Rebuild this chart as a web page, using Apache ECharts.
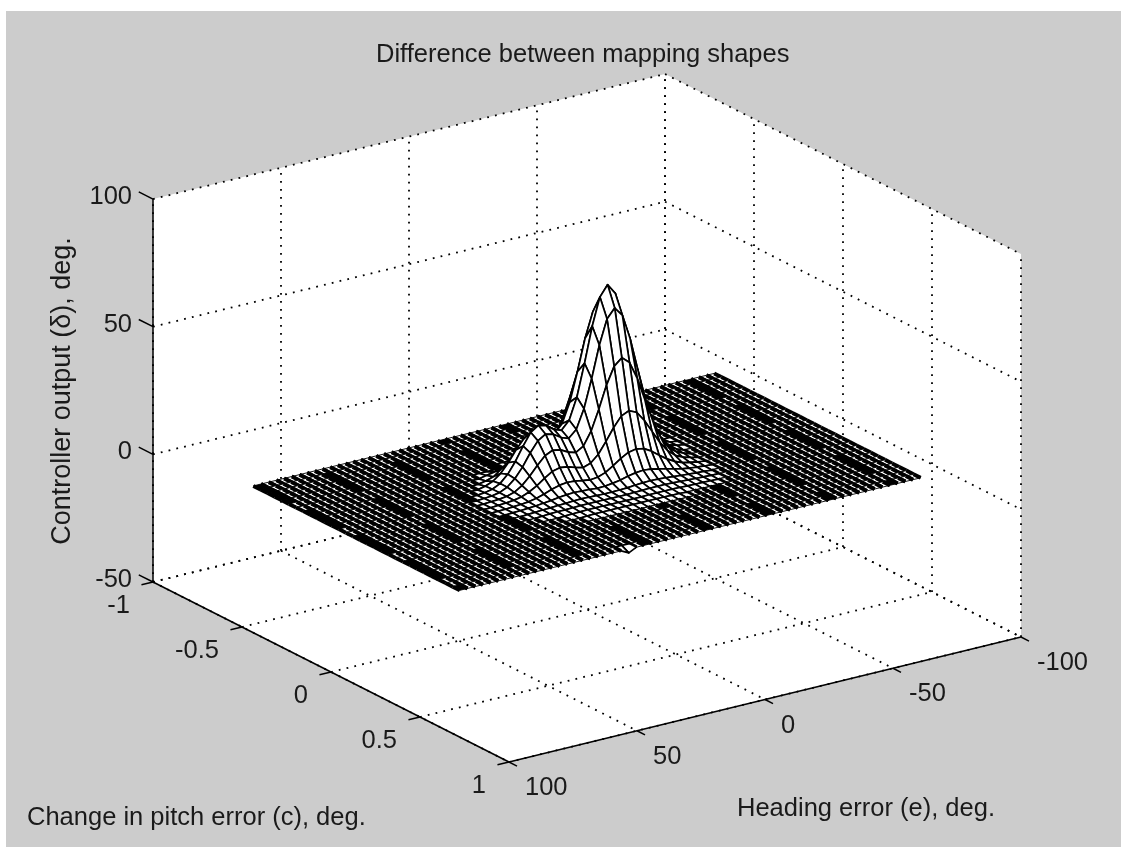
<!DOCTYPE html>
<html><head><meta charset="utf-8">
<style>html,body{margin:0;padding:0;background:#fff}#c{width:1121px;height:847px}</style>
<script src="https://cdn.jsdelivr.net/npm/echarts@6/dist/echarts.min.js"></script>
</head><body><div id="c"></div>
<script>
const titleText = 'Difference between mapping shapes';
const zAxisName = 'Controller output (\u03B4), deg.';
const cAxisName = 'Change in pitch error (c), deg.';
const eAxisName = 'Heading error (e), deg.';
const eTicks = [100, 50, 0, -50, -100];
const cTicks = [-1, -0.5, 0, 0.5, 1];
const zTicks = [100, 50, 0, -50];
const eGrid = [-90,-87,-84,-81,-78,-75,-72,-69,-66,-63,-60,-57,-54,-51,-48,-45,-42,-39,-36,-33,-30,-27,-24,-21,-18,-15,-12,-9,-6,-3,0,3,6,9,12,15,18,21,24,27,30,33,36,39,42,45,48,51,54,57,60,63,66,69,72,75,78,81,84,87,90];
const cGrid = [-0.58,-0.54,-0.5,-0.46,-0.42,-0.38,-0.34,-0.3,-0.26,-0.22,-0.18,-0.14,-0.1,-0.06,-0.02,0.02,0.06,0.1,0.14,0.18,0.22,0.26,0.3,0.34,0.38,0.42,0.46,0.5,0.54,0.58];
const peakE = [48,45,42,39,36,33,30,27,24,21,18,15,12,9,6,3,0,-3,-6,-9,-12,-15,-18,-21,-24,-27,-30,-33,-36,-39,-42,-45,-48];
const peakC = [-0.34,-0.3,-0.26,-0.22,-0.18,-0.14,-0.1,-0.06,-0.02,0.02,0.06,0.1,0.14,0.18,0.22,0.26];
const peakZ = [
[0,0,0,0,0,0,0,0,0,0,0,0,0,0,0,0,.2,.3,.4,.6,.9,1.1,.9,.6,.4,.3,.2,0,0,0,0,0,0],
[0,0,0,0,0,0,0,0,0,0,0,0,0,0,0,.3,.8,1.5,2.2,3,3.6,3.9,3.6,3,2.2,1.5,.8,.3,0,0,0,0,0],
[0,0,0,0,0,0,0,0,0,0,0,0,.4,.5,.8,1.3,2.5,4.1,6.3,8.6,10.3,10.9,10.3,8.6,6.3,4.1,2.4,1.2,.5,0,0,0,0],
[0,0,0,0,0,0,0,0,.6,1.2,1.8,2.3,2.7,2.8,3.1,3.9,6,9.3,14.3,19.3,23.2,24.6,23.2,19.3,14.3,9.3,5.4,2.7,1.3,0,0,0,0],
[0,0,0,0,0,0,0,.6,1.5,3.8,6,7.8,8.7,8.6,8.3,8.7,11.7,17.7,25.9,34.6,41.5,44.1,41.5,34.6,25.5,16.7,9.6,4.9,2.3,0,0,0,0],
[0,0,0,0,0,0,.7,1.9,4.2,7.7,11.9,15.5,17.3,16.6,15.1,14.6,17.8,25.5,36.7,49.1,58.7,62.3,58.7,48.9,36,23.6,13.6,6.9,3.2,1.2,.4,0,0],
[0,0,0,0,0,.3,.9,2.4,5.3,9.6,14.9,19.5,21.5,20.7,18.5,17.4,20.6,28.9,41.4,55.2,65.9,70,65.9,54.9,40.5,26.5,15.3,7.8,3.6,1.4,.5,0,0],
[0,0,0,0,.2,.4,1,2.4,5,8.8,13.6,17.6,19.5,18.7,16.7,15.6,18.4,25.8,36.8,49.2,58.7,62.3,58.7,48.9,36,23.6,13.6,6.9,3.2,1.2,0,0,0],
[0,0,0,.1,.3,.5,.9,1.8,3.7,6.6,10.1,13.2,14.6,14,12.4,11.5,13.3,18.4,26.2,34.9,41.6,44.2,41.6,34.7,25.6,16.8,9.7,5,2.4,1,0,0,0],
[0,0,0,.1,.3,.5,.8,1.4,2.6,4.3,6.5,8.4,9.2,8.8,7.8,7,8,10.7,15,19.7,23.5,24.9,23.5,19.6,14.6,9.6,5.7,3,1.6,.7,0,0,0],
[0,0,0,.1,.2,.4,.6,.9,1.5,2.4,3.5,4.4,4.8,4.6,4.1,3.6,3.9,5,6.9,9,10.7,11.3,10.7,9,6.7,4.5,2.8,1.6,.9,.4,0,0,0],
[0,0,0,0,.2,.3,.5,.7,1,1.3,1.8,2.1,2.3,2.1,2,1.7,1.8,2.2,2.7,3.5,4.1,4.4,4.1,3.5,2.7,2,1.3,.8,.5,.2,0,0,0],
[0,0,0,0,0,.2,.3,.5,.6,.8,.9,1.1,1.2,1.1,1,.9,.9,1,1.1,1.4,1.6,1.7,1.6,1.4,1.1,.8,.6,.4,.2,0,0,0,0],
[0,0,0,0,0,0,.2,.4,.5,.5,.6,.7,.7,.7,.7,.6,.6,.6,.7,.8,.9,.9,.9,.8,.6,.5,.3,.2,.1,0,0,0,0],
[0,0,0,0,0,0,0,0,.2,.3,.4,.5,.5,.5,.4,.4,.4,.4,.4,.5,.5,.5,.5,.4,.3,.2,.2,.1,0,0,0,0,0],
[0,0,0,0,0,0,0,0,0,0,.2,.3,.3,.3,.3,.3,.3,.3,.3,.3,.3,.2,.2,0,0,0,0,0,0,0,0,0,0]
];
const edgeDipE = [24];
const edgeDipC = [0.58];
const edgeDipZ = [-1.5];

// ---- view (orthographic projection of the 3-D box on the 2-D cartesian grid)
const O = {x: 509, y: 762};
const PER_E = {x: 2.56, y: -0.625}, PER_C = {x: 178, y: 90}, PER_Z = 2.553;
function proj(e, c, z) {
  return [O.x + (100 - e) * PER_E.x + (c - 1) * PER_C.x,
          O.y + (100 - e) * PER_E.y + (c - 1) * PER_C.y - (z + 50) * PER_Z];
}
const FONT = '"Liberation Sans", Arial, sans-serif';
const FS = 25.5, INK = '#1a1a1a';

const zMap = new Map();
peakC.forEach((c, j) => peakE.forEach((e, i) => { if (peakZ[j][i]) zMap.set(e + '|' + c, peakZ[j][i]); }));
edgeDipE.forEach((e, i) => zMap.set(e + '|' + edgeDipC[i], edgeDipZ[i]));
const zAt = (e, c) => zMap.get(e + '|' + c) || 0;

// cells, far to near
const cells = [];
for (let j = 0; j < cGrid.length - 1; j++) for (let i = 0; i < eGrid.length - 1; i++) cells.push([i, j]);

function pl(api, pts, w, dash) {
  return {type: 'polyline', silent: true, shape: {points: pts.map(p => api.coord(p))},
    style: {fill: 'none', stroke: '#000', lineWidth: w, lineDash: dash || null}};
}
const DOT = [1.8, 6.2];
const gridSegs = [];
zTicks.forEach(z => { gridSegs.push([100,-1,z,-100,-1,z]); gridSegs.push([-100,-1,z,-100,1,z]); });
eTicks.forEach(e => { gridSegs.push([e,-1,-50,e,1,-50]); gridSegs.push([e,-1,-50,e,-1,100]); });
cTicks.forEach(c => { gridSegs.push([100,c,-50,-100,c,-50]); gridSegs.push([-100,c,-50,-100,c,100]); });
const axisSegs = [[100,-1,-50,100,-1,100],[100,-1,-50,100,1,-50],[100,1,-50,-100,1,-50]];
zTicks.forEach(z => axisSegs.push([100,-1,z,100,-1.08,z]));
cTicks.forEach(c => axisSegs.push([100,c,-50,104.5,c,-50]));
eTicks.forEach(e => axisSegs.push([e,1,-50,e,1.045,-50]));

const labels = [];
zTicks.forEach(z => { const p = proj(100,-1,z); labels.push([String(z), p[0]-21, p[1]-2, 'right']); });
cTicks.forEach(c => { const p = proj(100,c,-50); labels.push([String(c), p[0]-23, p[1]+24, 'right']); });
eTicks.forEach(e => { const p = proj(e,1,-50); labels.push([String(e), p[0]+16, p[1]+26, 'left']); });

const noAnim = {animation:false, silent:true, clip:false, progressive:0, coordinateSystem:'cartesian2d', encode:{x:0,y:1}};
const chart = echarts.init(document.getElementById('c'), null, {renderer:'canvas'});
chart.setOption({
  animation:false,
  backgroundColor:'#ffffff',
  title:{text:titleText,left:376,top:42,textStyle:{fontFamily:FONT,fontSize:FS,fontWeight:'normal',color:INK},padding:0},
  grid:{left:0,right:0,top:0,bottom:0},
  xAxis:{type:'value',min:0,max:1121,show:false},
  yAxis:{type:'value',min:0,max:847,inverse:true,show:false},
  graphic:[
    {type:'rect',z:-10,silent:true,shape:{x:6,y:11,width:1115,height:836},style:{fill:'#cccccc'}},
    {type:'text',z:50,silent:true,x:27,y:818,style:{text:cAxisName,font:FS+'px '+FONT,fill:INK,textAlign:'left',textVerticalAlign:'middle'}},
    {type:'text',z:50,silent:true,x:737,y:809,style:{text:eAxisName,font:FS+'px '+FONT,fill:INK,textAlign:'left',textVerticalAlign:'middle'}},
    {type:'text',z:50,silent:true,x:63,y:391,rotation:Math.PI/2,style:{text:zAxisName,font:'27px '+FONT,fill:INK,textAlign:'center',textVerticalAlign:'middle'}}
  ],
  series:[
    Object.assign({type:'custom',name:'panes',z:1,data:[[0,0]],renderItem:(p,api)=>({
      type:'polygon',silent:true,
      shape:{points:[proj(100,-1,-50),proj(100,1,-50),proj(-100,1,-50),proj(-100,1,100),proj(-100,-1,100),proj(100,-1,100)].map(q=>api.coord(q))},
      style:{fill:'#fff',stroke:null}})},noAnim),
    Object.assign({type:'custom',name:'grid lines',z:2,data:gridSegs.map(()=>[0,0]),renderItem:(p,api)=>{
      const s=gridSegs[p.dataIndex];
      return pl(api,[proj(s[0],s[1],s[2]),proj(s[3],s[4],s[5])],1.8,DOT);}},noAnim),
    Object.assign({type:'custom',name:'axes',z:3,data:axisSegs.map(()=>[0,0]),renderItem:(p,api)=>{
      const s=axisSegs[p.dataIndex];
      return pl(api,[proj(s[0],s[1],s[2]),proj(s[3],s[4],s[5])],1.5);}},noAnim),
    Object.assign({type:'custom',name:'tick labels',z:4,data:labels.map(()=>[0,0]),renderItem:(p,api)=>{
      const l=labels[p.dataIndex]; const q=api.coord([l[1],l[2]]);
      return {type:'text',silent:true,x:q[0],y:q[1],style:{text:l[0],font:FS+'px '+FONT,fill:INK,textAlign:l[3],textVerticalAlign:'middle'}};}},noAnim),
    Object.assign({type:'custom',name:'surface',z:5,data:cells,renderItem:(p,api)=>{
      const [i,j]=cells[p.dataIndex];
      const e0=eGrid[i],e1=eGrid[i+1],c0=cGrid[j],c1=cGrid[j+1];
      const z00=zAt(e0,c0),z10=zAt(e1,c0),z11=zAt(e1,c1),z01=zAt(e0,c1);
      const a=proj(e0,c0,z00),b=proj(e1,c0,z10),d=proj(e1,c1,z11),f=proj(e0,c1,z01);
      const flat=Math.max(Math.abs(z00),Math.abs(z10),Math.abs(z11),Math.abs(z01))<0.05;
      // the flat part of the mesh prints almost solid in the reference, with dark moire bands
      const band=flat && (i%8===3) && ((j+(i>>3))%7<5);
      const poly={type:'polygon',silent:true,shape:{points:[a,b,d,f].map(q=>api.coord(q))},
        style:{fill:band?'#000':'#fff',stroke:'#000',lineWidth:flat?0.9:1.7,lineJoin:'round'}};
      if(!flat) return poly;
      return {type:'group',children:[poly,pl(api,[a,f],3.9),pl(api,[b,d],3.9)]};
    }},noAnim)
  ]
});
</script></body></html>
